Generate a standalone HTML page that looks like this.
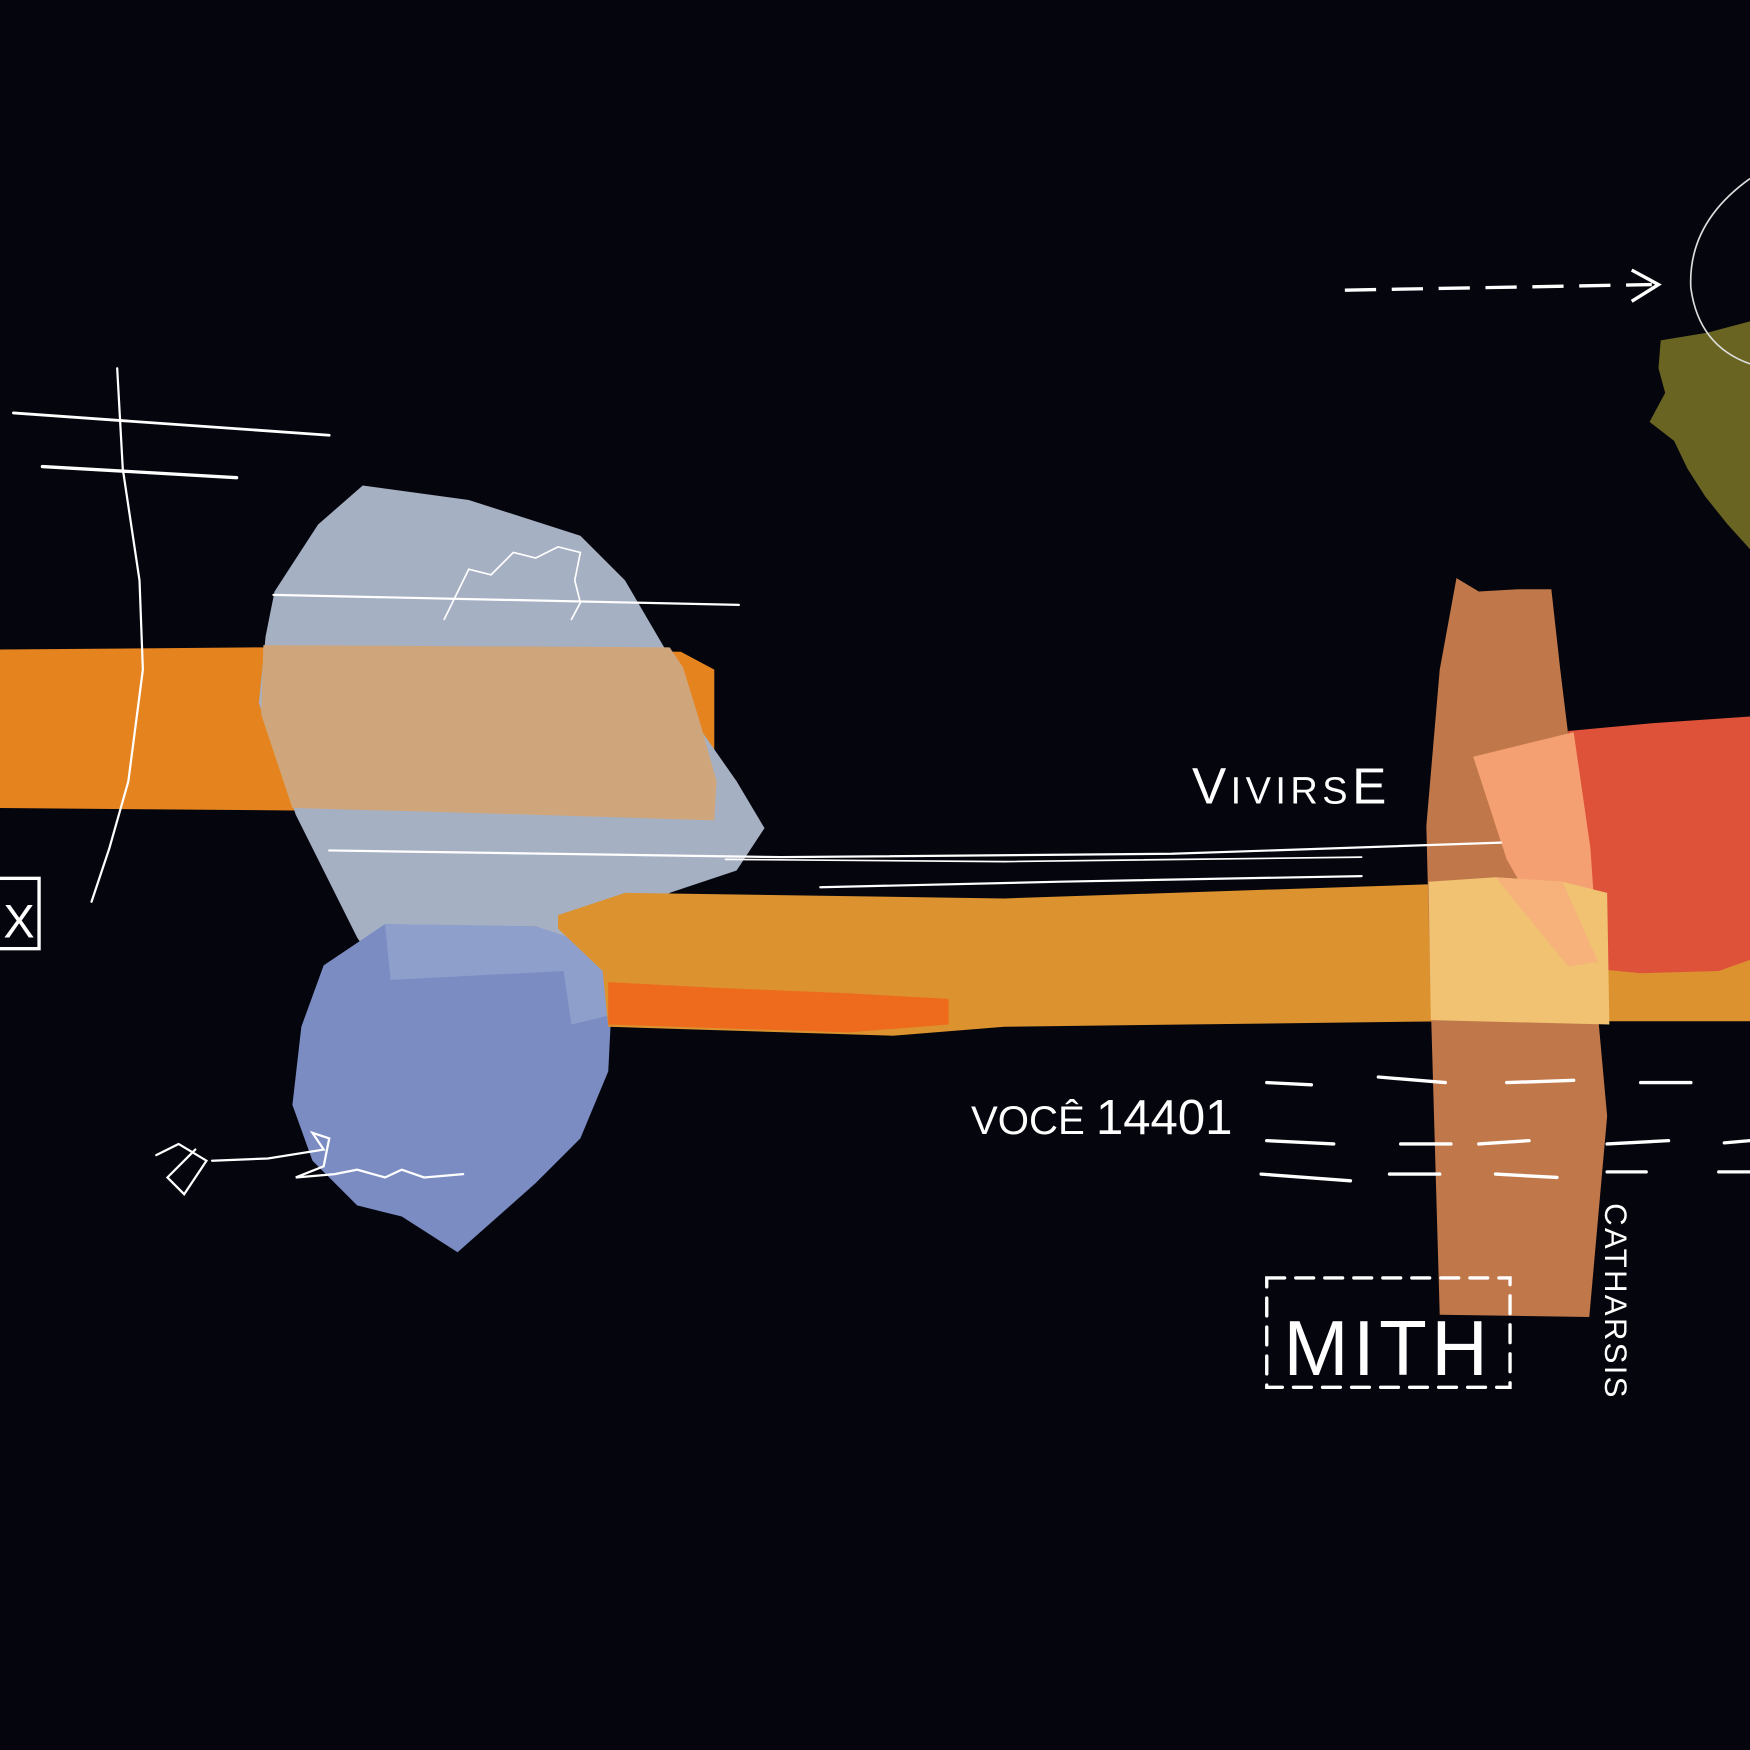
<!DOCTYPE html>
<html><head><meta charset="utf-8"><style>
html,body{margin:0;padding:0;background:#05050d;}
svg{display:block;}
text{font-family:"Liberation Sans",sans-serif;fill:#fff;}
</style></head><body>
<svg width="1750" height="1750" viewBox="0 0 1568 1568" xmlns="http://www.w3.org/2000/svg">
<rect width="1568" height="1568" fill="#05050d"/>
<polygon points="1488,305 1530,298 1568,288 1568,492 1548,470 1528,445 1512,420 1500,395 1478,378 1492,352 1486,330" fill="#6a6422"/>
<path d="M1568,160 Q1512,200 1515,258 Q1522,310 1568,326" fill="none" stroke="#ddd" stroke-width="1.5"/>
<line x1="1205" y1="260" x2="1480" y2="255" stroke="#fff" stroke-width="3" stroke-dasharray="28,14"/>
<polyline points="1462,242 1486,255 1462,270" fill="none" stroke="#fff" stroke-width="3"/>
<polygon points="0,582 240,580 610,584 640,600 640,730 240,726 0,724" fill="#e5841f"/>
<polygon points="325,435 420,448 520,480 560,520 598,585 625,650 660,700 685,742 660,780 600,800 560,832 470,860 345,878 320,840 300,800 265,730 232,630 238,570 246,530 285,470" fill="#a6b0c3"/>
<polygon points="236,578 600,580 612,598 628,650 642,700 640,735 410,728 262,724 234,640" fill="#cfa67c"/>
<polygon points="290,865 345,828 480,830 540,850 548,900 545,960 520,1020 480,1060 410,1122 360,1090 320,1080 280,1040 262,990 270,920" fill="#7b8cc3"/>
<polygon points="345,828 480,830 540,850 545,910 512,918 505,870 350,878" fill="#8f9fcc"/>
<polygon points="500,820 560,800 900,805 1290,792 1568,790 1568,915 1300,915 900,920 800,928 545,920 540,870 500,832" fill="#db922f"/>
<polygon points="545,880 640,885 760,890 850,895 850,918 760,925 545,918" fill="#ee6a1c"/>
<polygon points="1305,518 1325,530 1360,528 1390,528 1398,600 1420,780 1440,1000 1424,1180 1290,1178 1282,900 1278,740 1290,600" fill="#c0784a"/>
<polygon points="1405,655 1480,648 1568,642 1568,860 1540,870 1470,872 1430,868 1410,800" fill="#df523a"/>
<polygon points="1320,678 1410,656 1425,760 1432,862 1405,866 1350,770" fill="#f4a072"/>
<polygon points="1280,790 1340,786 1400,790 1440,800 1442,918 1282,914" fill="#f0c272"/>
<polygon points="1340,786 1400,790 1432,862 1405,866" fill="#f6b27a"/>
<g stroke="#fff" fill="none" stroke-linecap="round">
<line x1="12" y1="370" x2="295" y2="390" stroke-width="2.5"/>
<line x1="38" y1="418" x2="212" y2="428" stroke-width="3"/>
<path d="M105,330 L110,420 L125,520 L128,600 L115,700 L98,760 L82,808" stroke-width="2"/>
<line x1="245" y1="533" x2="662" y2="542" stroke-width="2"/>
<path d="M398,555 L420,510 L440,515 L460,495 L480,500 L500,490 L520,495 L515,520 L520,540 L512,555" stroke-width="1.5"/>
<path d="M295,762 L700,768 L1050,765 L1345,755" stroke-width="2"/>
<path d="M650,770 L900,772 L1220,768" stroke-width="1.5"/>
<path d="M735,795 L950,790 L1220,785" stroke-width="2"/>
<path d="M140,1035 L160,1025 L185,1040 L165,1070 L150,1055 L175,1030 M190,1040 L240,1038 L290,1030 L280,1015 L295,1020 L290,1045 L265,1055 L300,1052 L320,1048 L345,1055 L360,1048 L380,1055 L415,1052" stroke-width="2"/>
<rect x="-5" y="787" width="40" height="63" stroke-width="3"/>
<g stroke-width="3">
<line x1="1135" y1="970" x2="1175" y2="972"/><line x1="1235" y1="965" x2="1295" y2="970"/><line x1="1350" y1="970" x2="1410" y2="968"/><line x1="1470" y1="970" x2="1515" y2="970"/>
<line x1="1135" y1="1022" x2="1195" y2="1025"/><line x1="1255" y1="1025" x2="1300" y2="1025"/><line x1="1325" y1="1025" x2="1370" y2="1022"/><line x1="1440" y1="1025" x2="1495" y2="1022"/><line x1="1545" y1="1024" x2="1568" y2="1022"/>
<line x1="1130" y1="1052" x2="1210" y2="1058"/><line x1="1245" y1="1052" x2="1290" y2="1052"/><line x1="1340" y1="1052" x2="1395" y2="1055"/><line x1="1440" y1="1050" x2="1475" y2="1050"/><line x1="1540" y1="1050" x2="1568" y2="1050"/>
</g>
<rect x="1135" y="1145" width="218" height="98" stroke-width="3" stroke-dasharray="16,10"/>
</g>
<text x="3" y="840" font-size="42">X</text>
<text x="1068" y="720" font-size="46" letter-spacing="4">V<tspan font-size="34">IVIRS</tspan>E</text>
<text x="870" y="1016" font-size="36">VOCÊ <tspan font-size="44">14401</tspan></text>
<text x="1150" y="1232" font-size="70" letter-spacing="4">MITH</text>
<text transform="translate(1438,1078) rotate(90)" font-size="28" letter-spacing="2">CATHARSIS</text>
</svg>
</body></html>
